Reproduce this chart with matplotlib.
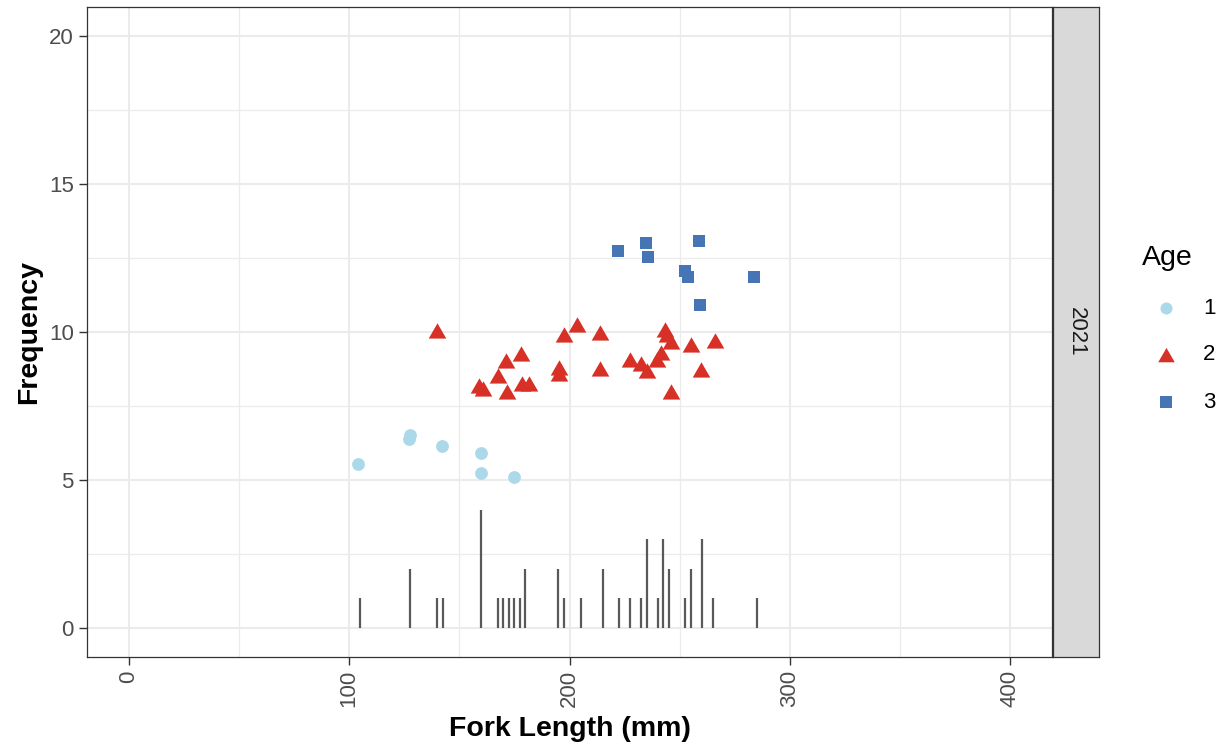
import numpy as np
import matplotlib
matplotlib.use("Agg")
import matplotlib.pyplot as plt
from matplotlib.ticker import MultipleLocator

plt.rcParams["font.family"] = ["Liberation Sans", "DejaVu Sans"]

# ── data ──
hist_len = [105, 127.5, 140, 142.5, 160, 167.5, 170, 172.5, 175, 177.5, 180,
            195, 197.5, 205, 215, 222.5, 227.5, 232.5, 235, 240, 242.5, 245,
            252.5, 255, 260, 265, 285]
hist_n = [1, 2, 1, 1, 4, 1, 1, 1, 1, 1, 2,
          2, 1, 1, 2, 1, 1, 1, 3, 1, 3, 2,
          1, 2, 3, 1, 1]

age1_len = [104, 127.5, 127, 142, 160, 160, 175]
age1_y = [5.54, 6.52, 6.39, 6.16, 5.92, 5.23, 5.09]

age2_len = [139.9, 158.8, 160.9, 167.4, 171.2, 171.8, 178.0, 178.5, 181.8,
            195.1, 195.1, 197.7, 203.5, 213.9, 213.8, 227.6, 232.3, 235.1,
            239.8, 241.7, 243.2, 244.4, 246.2, 246.2, 255.0, 259.8, 266.1]
age2_y = [9.97, 8.10, 8.02, 8.44, 8.95, 7.90, 9.20, 8.19, 8.19,
          8.73, 8.52, 9.82, 10.16, 9.90, 8.67, 8.97, 8.84, 8.61,
          8.97, 9.23, 9.99, 9.82, 9.59, 7.90, 9.51, 8.64, 9.63]

age3_len = [222.0, 234.5, 235.6, 258.6, 252.4, 253.8, 283.9, 259.4]
age3_y = [12.74, 13.0, 12.55, 13.07, 12.07, 11.87, 11.85, 10.9]

ages = ["1", "2", "3"]
age_colors = ["#ABD9E9", "#D73027", "#4575B4"]
year = "2021"

# ggplot-like equilateral triangle (centroid at origin)
tri = [(0, 1), (-0.866, -0.5), (0.866, -0.5), (0, 1)]

W, H = 1225, 751
fig = plt.figure(figsize=(W / 100, H / 100), dpi=100)

def fx(px):
    return px / W

def fy(py):
    return 1 - py / H

L, R, T, B = 87, 1052, 7, 657
ax = fig.add_axes([fx(L), fy(B), fx(R) - fx(L), fy(T) - fy(B)])

grid_c = "#EBEBEB"
dark = "#333333"

# thin histogram bars
ax.vlines(hist_len, 0, hist_n, color="#595959", lw=1.6, zorder=2)
ax.scatter(age1_len, age1_y, s=85, marker="o", color=age_colors[0],
           linewidths=0, zorder=3)
ax.scatter(age2_len, age2_y, s=215, marker=tri, color=age_colors[1],
           linewidths=0, zorder=3)
ax.scatter(age3_len, age3_y, s=85, marker="s", color=age_colors[2],
           linewidths=0, zorder=3)

ax.set_xlim(-19, 419)
ax.set_ylim(-0.98, 20.98)
ax.xaxis.set_major_locator(MultipleLocator(100))
ax.xaxis.set_minor_locator(MultipleLocator(50))
ax.yaxis.set_major_locator(MultipleLocator(5))
ax.yaxis.set_minor_locator(MultipleLocator(2.5))

ax.grid(which="major", color=grid_c, lw=1.5, zorder=0)
ax.grid(which="minor", color=grid_c, lw=0.9, zorder=0)
ax.set_axisbelow(True)

ax.tick_params(which="major", length=5.5, width=1.0, color=dark,
               labelsize=16, labelcolor="#4D4D4D", pad=4)
ax.tick_params(which="minor", length=0)
plt.setp(ax.get_xticklabels(), rotation=90)

for sp in ax.spines.values():
    sp.set_color(dark)
    sp.set_linewidth(0.9)

ax.set_xlabel("Fork Length (mm)", fontsize=20.5, fontweight="bold", labelpad=6)
ax.set_ylabel("Frequency", fontsize=20.5, fontweight="bold", labelpad=5)

# ── facet strip ──
sax = fig.add_axes([fx(R + 1), fy(B), fx(1099) - fx(R + 1), fy(T) - fy(B)])
sax.set_facecolor("#D9D9D9")
sax.set_xticks([])
sax.set_yticks([])
for sp in sax.spines.values():
    sp.set_color(dark)
    sp.set_linewidth(0.9)
sax.text(0.5, 0.5, year, rotation=-90, ha="center", va="center",
         fontsize=16, color="#1A1A1A", transform=sax.transAxes)

# ── legend ──
lax = fig.add_axes([0, 0, 1, 1])
lax.set_xlim(0, W)
lax.set_ylim(H, 0)
lax.axis("off")
lax.text(1142, 258, "Age", fontsize=20.5, ha="left", va="center")
leg_y = [308, 355, 402]
markers = [("o", 75), (tri, 190), ("s", 75)]
for lab, c, (m, s), yy in zip(ages, age_colors, markers, leg_y):
    lax.scatter([1166], [yy + (2 if m is tri else 0)], s=s, marker=m,
                color=c, linewidths=0)
    lax.text(1203, yy, lab, fontsize=16, ha="left", va="center")

fig.savefig("out.png", dpi=100)
